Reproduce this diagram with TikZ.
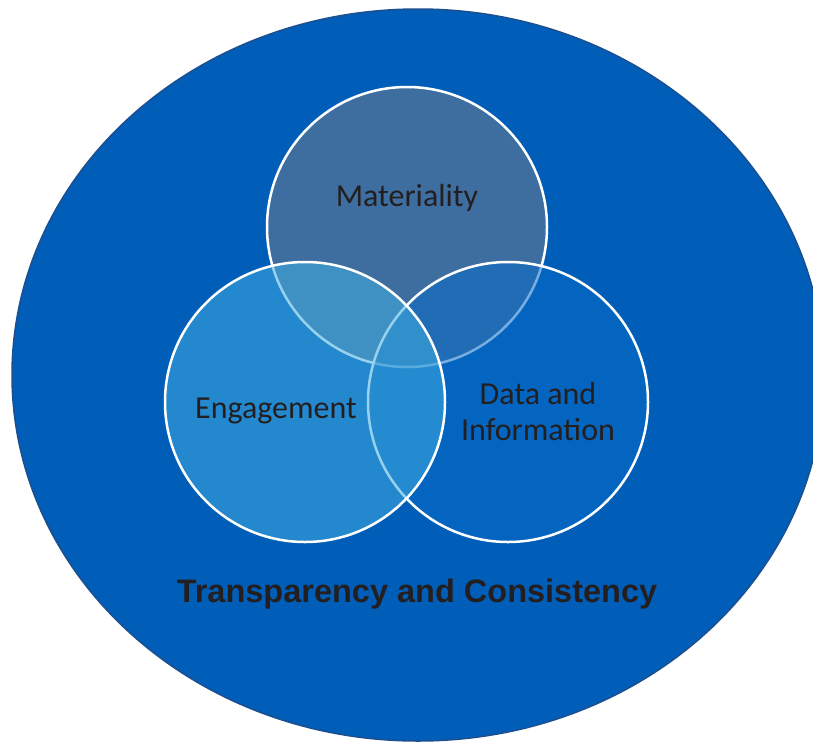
\documentclass[tikz,border=0pt]{standalone}
\usepackage{fontspec}
\setmainfont{Carlito}
\newfontfamily\headfont{Liberation Sans}
\usetikzlibrary{shapes.geometric}
\definecolor{outerblue}{RGB}{0,94,184}
\definecolor{outeredge}{RGB}{28,79,143}
\definecolor{matblue}{RGB}{62,110,160}
\definecolor{datablue}{RGB}{9,107,199}
\definecolor{engblue}{RGB}{64,172,224}
\definecolor{labeltext}{RGB}{35,31,32}
\tikzset{outer/.style={ellipse,draw=outeredge,line width=1.5pt,fill=outerblue,inner sep=0pt},
         ring/.style={circle,draw=white,line width=2.5pt,minimum size=280pt,inner sep=0pt},
         tag/.style={text=labeltext,font=\fontsize{32}{36}\selectfont,align=center},
         headline/.style={text=labeltext,font=\headfont\bfseries\fontsize{32.5}{36}\selectfont},
        }

\begin{document}
\begin{tikzpicture}[x=1pt,y=-1pt]
        \useasboundingbox (0,0) rectangle (813,742);
        \clip (0,0) rectangle (813,742);
        \node[outer,minimum width=812pt,minimum height=732pt](frame)at(418,375){};

        \node[ring,fill=matblue](mat)at(407,227){};
        \node[ring,fill=datablue,fill opacity=0.55](dat)at(508,402){};
        \node[ring,fill=engblue,fill opacity=0.55](eng)at(305,402){};

        \node[tag](matl)at(407,198){Materiality};
        \node[tag](engl)at(276,411){Engagement};
        \node[tag](datl)at(538,411){Data and\\Information};
        \node[headline](head)at(417,594){Transparency and Consistency};
    \end{tikzpicture}
\end{document}
